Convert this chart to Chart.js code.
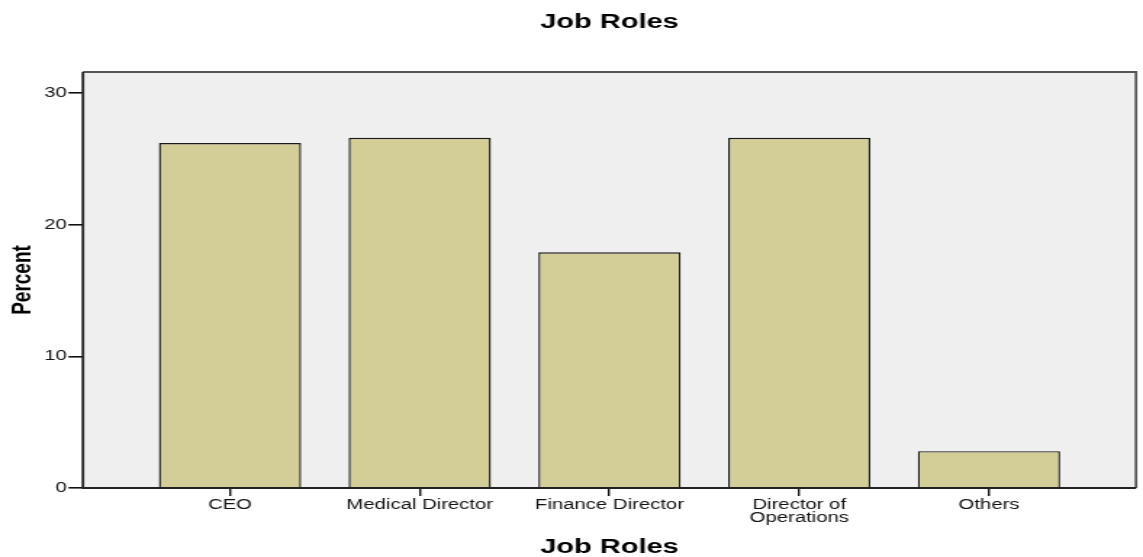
<!DOCTYPE html>
<html>
<head>
<meta charset="utf-8">
<title>Job Roles</title>
<script src="https://cdn.jsdelivr.net/npm/chart.js@4"></script>
<style>
    html, body { margin: 0; padding: 0; background: #fff; overflow: hidden; }
    /* chart is drawn narrow and widened, like the exported SPSS graphic */
    #job-chart { display: block; transform: scaleX(1.4505); transform-origin: 0 0; }
</style>
</head>
<body>
<canvas id="job-chart" width="788" height="557"></canvas>
<script>
// Job roles, percent of respondents
const categories = ["CEO", "Medical Director", "Finance Director", ["Director of", "Operations"], "Others"];
const percentValues = [26.2, 26.6, 17.9, 26.6, 2.8];
const yTickValues = [0, 10, 20, 30];

const FONT = "'Liberation Sans', Arial, sans-serif";

// Grey panel behind the bars and a frame around it
const plotFrame = {
    id: "plotFrame",
    beforeDatasetsDraw(chart) {
        const { ctx, chartArea: a } = chart;
        ctx.save();
        ctx.fillStyle = "#efefef";
        ctx.fillRect(a.left, a.top, a.right - a.left, a.bottom - a.top);
        ctx.restore();
    },
    afterDraw(chart) {
        const { ctx, chartArea: a } = chart;
        ctx.save();
        ctx.strokeStyle = "#555";
        ctx.lineWidth = 1.8;
        ctx.beginPath();
        ctx.moveTo(a.left, a.top);
        ctx.lineTo(a.right, a.top);
        ctx.lineTo(a.right, a.bottom);
        ctx.stroke();
        ctx.strokeStyle = "#222";
        ctx.lineWidth = 1.8;
        ctx.beginPath();
        ctx.moveTo(a.left, a.top);
        ctx.lineTo(a.left, a.bottom);
        ctx.lineTo(a.right, a.bottom);
        ctx.stroke();
        ctx.restore();
    },
};

document.addEventListener("DOMContentLoaded", () => {
    const ctx = document.getElementById("job-chart").getContext("2d");

    new Chart(ctx, {
        type: "bar",
        data: {
            datasets: [
                {
                    label: "Percent",
                    data: percentValues.map((v, i) => ({ x: i, y: v })),
                    backgroundColor: "#d3ce97",
                    borderColor: "#1a1a1a",
                    borderWidth: 1.4,
                    barPercentage: 0.75,
                    categoryPercentage: 1,
                },
            ],
        },
        options: {
            responsive: false,
            animation: false,
            events: [],
            layout: { padding: { left: 0, right: 4.8, top: 0, bottom: 0 } },
            plugins: {
                legend: { display: false },
                tooltip: { enabled: false },
                title: {
                    display: true,
                    text: "Job Roles",
                    fullSize: false,
                    color: "#000",
                    font: { family: FONT, size: 20, weight: "bold", lineHeight: 1 },
                    padding: { top: 12, bottom: 40 },
                },
            },
            scales: {
                x: {
                    type: "linear",
                    offset: false,
                    min: -0.775,
                    max: 4.775,
                    afterBuildTicks: scale => {
                        scale.ticks = categories.map((_, i) => ({ value: i }));
                    },
                    afterFit: scale => {
                        scale.height = 69;
                    },
                    grid: {
                        offset: false,
                        drawOnChartArea: false,
                        drawTicks: true,
                        tickLength: 8,
                        tickColor: "#111",
                        lineWidth: 1.4,
                    },
                    border: { display: false },
                    ticks: {
                        autoSkip: false,
                        maxRotation: 0,
                        minRotation: 0,
                        padding: 3.2,
                        color: "#111",
                        font: { family: FONT, size: 14, lineHeight: 0.9 },
                        callback: value => categories[value],
                    },
                    title: {
                        display: true,
                        text: "Job Roles",
                        color: "#000",
                        font: { family: FONT, size: 20, weight: "bold", lineHeight: 1 },
                        padding: { top: 0, bottom: 0 },
                    },
                },
                y: {
                    min: 0,
                    max: 31.6,
                    afterBuildTicks: scale => {
                        scale.ticks = yTickValues.map(v => ({ value: v }));
                    },
                    afterFit: scale => {
                        scale.width = 57.2;
                    },
                    grid: {
                        drawOnChartArea: false,
                        drawTicks: true,
                        tickLength: 10,
                        tickColor: "#111",
                        lineWidth: 1.6,
                    },
                    border: { display: false },
                    ticks: {
                        padding: 1.2,
                        color: "#111",
                        font: { family: FONT, size: 14 },
                    },
                    title: {
                        display: true,
                        text: "Percent",
                        color: "#000",
                        font: { family: FONT, size: 19, weight: "bold", lineHeight: 1 },
                        padding: { top: 6, bottom: 0 },
                    },
                },
            },
        },
        plugins: [plotFrame],
    });
});
</script>
</body>
</html>
